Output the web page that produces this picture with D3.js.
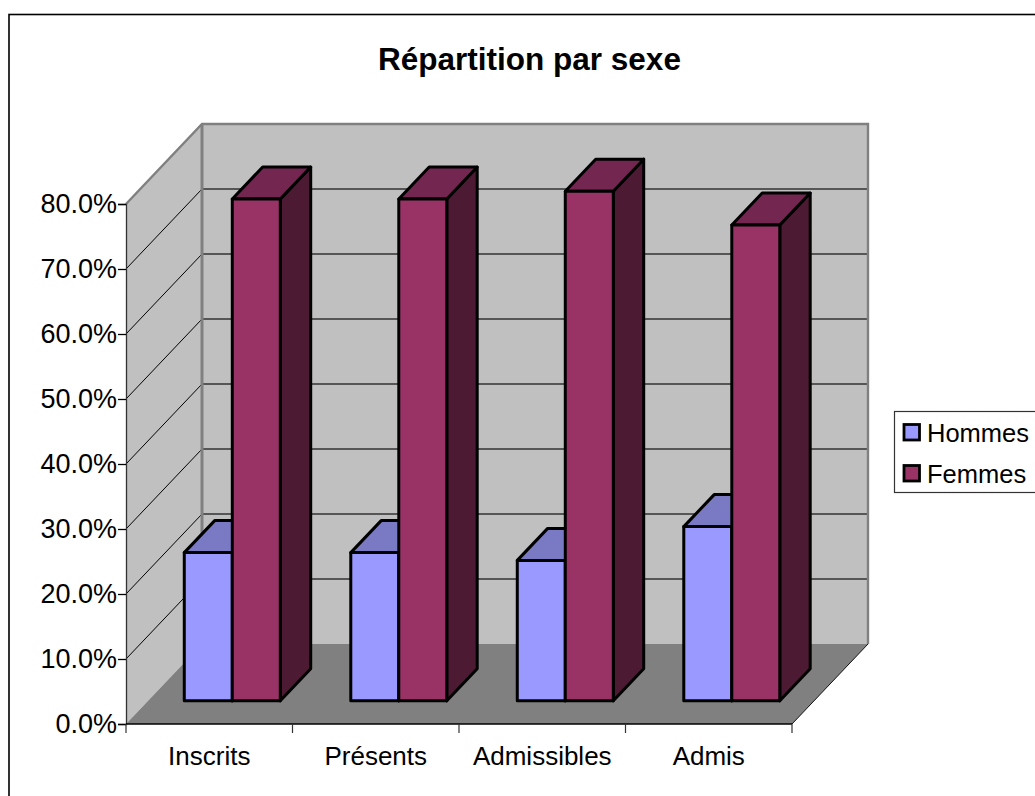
<!DOCTYPE html>
<html><head><meta charset="utf-8">
<script src="https://cdn.jsdelivr.net/npm/d3@7"></script>
<style>html,body{margin:0;padding:0;background:#fff}svg{display:block}text{font-family:"Liberation Sans",Arial,sans-serif;fill:#000}</style>
</head><body><svg id="c" width="1035" height="796"></svg>
<script>
const title = "Répartition par sexe";
const categories = ["Inscrits","Présents","Admissibles","Admis"];
const seriesNames = ["Hommes","Femmes"];
const hommes = [22.8,22.8,21.6,26.8];
const femmes = [77.2,77.2,78.4,73.2];
const ticks = [0,10,20,30,40,50,60,70,80];

const svg = d3.select("#c");
const x = d3.scaleBand().domain(categories).range([126,792]);
const y = d3.scaleLinear().domain([0,80]).range([724,204]);
const depth = d3.scaleLinear().domain([0,1]).range([0,76]);
const rise = d3.scaleLinear().domain([0,1]).range([0,-80]);
const P = (cx,v,d) => [cx+depth(d), y(v)+rise(d)];
const poly = (pts,fill,stroke,w) => svg.append("polygon").attr("points",pts.map(p=>p.join(",")).join(" "))
  .attr("fill",fill).attr("stroke",stroke).attr("stroke-width",w).attr("stroke-linejoin","round");
const line = (pts,stroke,w) => svg.append("path").attr("d",d3.line()(pts)).attr("fill","none").attr("stroke",stroke).attr("stroke-width",w);

// chart frame
svg.append("rect").attr("x",9).attr("y",14.5).attr("width",1100).attr("height",800).attr("fill","#fff").attr("stroke","#000").attr("stroke-width",1.6);

// walls & floor
const [x0,x1] = x.range();
poly([P(x0,0,0),P(x0,80,0),P(x0,80,1),P(x0,0,1)],"#c0c0c0","none",0);
poly([P(x0,0,1),P(x0,80,1),P(x1,80,1),P(x1,0,1)],"#c0c0c0","none",0);
poly([P(x0,0,0),P(x0,0,1),P(x1,0,1),P(x1,0,0)],"#808080","none",0);
ticks.filter(t=>t>0&&t<80).forEach(t=>{
  line([P(x0,t,0),P(x0,t,1)],"#000",1);
  line([P(x0,t,1),P(x1,t,1)],"#333",1.4);
});
line([P(x0,80,0),P(x0,80,1),P(x1,80,1),P(x1,0,1)],"#808080",2.4);
line([P(x0,0,1),P(x0,80,1)],"#808080",3);
line([P(x1,0,1),P(x1,0,0)],"#111",1);

// bars
const barFront = 0.29, barBack = 0.69, barStroke = 3;
const inner = d3.scaleBand().domain(seriesNames).range([1,x.bandwidth()+1]).paddingOuter(0.734).paddingInner(0);
const colors = {Hommes:["#9999ff","#7a7ac4","#4d4d80"],Femmes:["#993366","#732650","#4d1a33"]};
const values = {Hommes:hommes,Femmes:femmes};
const bar = (cat,name,v) => {
  const l = x(cat)+inner(name), r = l+inner.bandwidth(), c = colors[name];
  poly([P(r,0,barFront),P(r,v,barFront),P(r,v,barBack),P(r,0,barBack)],c[2],"#000",barStroke);
  poly([P(l,v,barFront),P(r,v,barFront),P(r,v,barBack),P(l,v,barBack)],c[1],"#000",barStroke);
  poly([P(l,0,barFront),P(r,0,barFront),P(r,v,barFront),P(l,v,barFront)],c[0],"#000",barStroke);
};
categories.forEach((cat,i)=>{ seriesNames.forEach(n=>bar(cat,n,values[n][i])); });

// axes
const yAxis = d3.axisLeft(y).tickValues(ticks).tickSize(8).tickPadding(2).tickFormat(d=>d.toFixed(1)+"%");
const gy = svg.append("g").attr("transform","translate(126,0)").call(yAxis);
gy.selectAll("text").attr("font-size",27).attr("x",-9);
gy.selectAll(".tick line").attr("stroke","#000").attr("stroke-width",1.3);
gy.select(".domain").attr("stroke","#333").attr("stroke-width",1.3);
const gx = svg.append("g").attr("transform","translate(0,724)").call(d3.axisBottom(x).tickSize(0).tickPadding(23));
gx.selectAll("text").attr("font-size",26);
gx.select(".domain").remove();
line([[x0,y(0)],[x1,y(0)]],"#000",1.3);
[...categories.map(c=>x(c)),x1].forEach(v=>line([[v,y(0)],[v,y(0)+9]],"#333",1.2));

// title
svg.append("text").attr("x",529.5).attr("y",70).attr("text-anchor","middle").attr("font-size",31.5).attr("font-weight","bold").text(title);

// legend
const lg = svg.append("g");
lg.append("rect").attr("x",894.5).attr("y",411.5).attr("width",170).attr("height",81).attr("fill","#fff").attr("stroke","#333").attr("stroke-width",1.2);
seriesNames.forEach((n,i)=>{
  lg.append("rect").attr("x",904).attr("y",424.5+i*41).attr("width",15.5).attr("height",15.5).attr("fill",colors[n][0]).attr("stroke","#000").attr("stroke-width",2.8);
  lg.append("text").attr("x",927).attr("y",441.5+i*41).attr("font-size",25.5).text(n);
});
</script></body></html>
